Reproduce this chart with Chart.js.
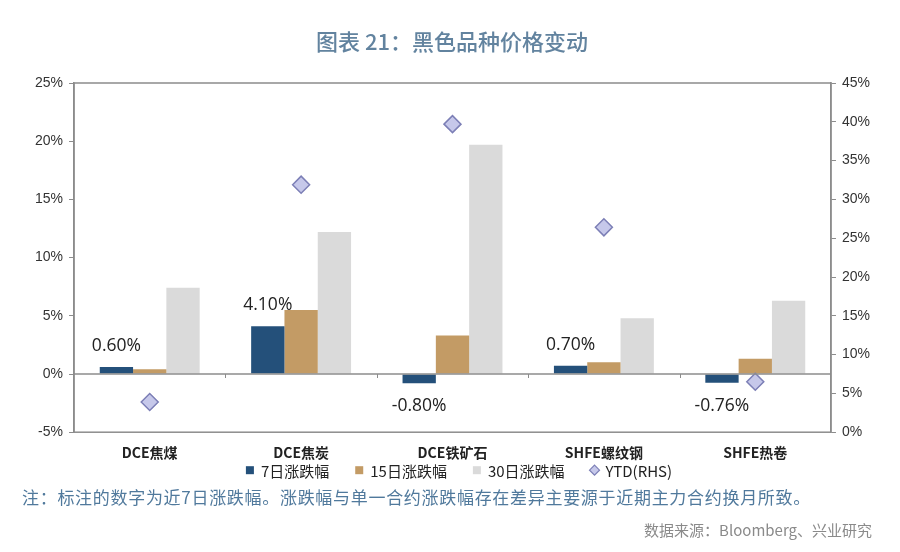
<!DOCTYPE html>
<html>
<head>
<meta charset="utf-8">
<script src="https://cdn.jsdelivr.net/npm/chart.js@4.4.1/dist/chart.umd.min.js"></script>
<style>
  body { margin: 0; background: #fff; font-family: "Noto Sans CJK SC", "Noto Sans", sans-serif; }
  #wrap { position: relative; width: 900px; height: 552px; overflow: hidden; }
  #title { position: absolute; top: 24px; left: 0; width: 904px; text-align: center; font-size: 22px; font-weight: 500; color: #62839f; }
  #note { position: absolute; top: 484px; left: 22px; font-size: 17px; color: #50799c; letter-spacing: 0.7px; }
  #source { position: absolute; top: 519px; right: 28px; font-size: 15px; color: #8a8a8a; }
  canvas { position: absolute; top: 0; left: 0; }
</style>
</head>
<body>
<div id="wrap">
  <canvas id="chart" width="900" height="552"></canvas>
  <div id="title">图表 21：黑色品种价格变动</div>
  <div id="note">注：标注的数字为近7日涨跌幅。涨跌幅与单一合约涨跌幅存在差异主要源于近期主力合约换月所致。</div>
  <div id="source">数据来源：Bloomberg、兴业研究</div>
</div>
<script>
// Data (%)
const categories = ["DCE焦煤", "DCE焦炭", "DCE铁矿石", "SHFE螺纹钢", "SHFE热卷"];
const chg7d = [0.60, 4.10, -0.80, 0.70, -0.76];
const chg15d = [0.4, 5.5, 3.3, 1.0, 1.3];
const chg30d = [7.4, 12.2, 19.7, 4.8, 6.3];
const ytd = [3.9, 31.9, 39.7, 26.4, 6.5];
const seriesNames = ["7日涨跌幅", "15日涨跌幅", "30日涨跌幅", "YTD(RHS)"];

const axisGray = "#8c8c8c";

// Frame, zero line, small category ticks, 7-day labels and legend
const extras = {
  id: "extras",
  afterDatasetsDraw(chart) {
    const { ctx, chartArea: a, scales } = chart;
    const y0 = scales.y.getPixelForValue(0);
    ctx.save();
    ctx.strokeStyle = axisGray;
    ctx.lineWidth = 1.5;
    ctx.strokeRect(a.left, a.top, a.right - a.left, a.bottom - a.top);
    ctx.beginPath();
    ctx.moveTo(a.left, y0);
    ctx.lineTo(a.right, y0);
    ctx.stroke();
    // ticks between categories on the zero line
    const step = (a.right - a.left) / categories.length;
    ctx.lineWidth = 1;
    for (let i = 1; i < categories.length; i++) {
      const x = Math.round(a.left + step * i) + 0.5;
      ctx.beginPath();
      ctx.moveTo(x, y0);
      ctx.lineTo(x, y0 + 4);
      ctx.stroke();
    }
    // labels for the 7-day bars
    const meta = chart.getDatasetMeta(0);
    ctx.fillStyle = "#222";
    ctx.font = "17.5px 'Open Sans', 'DejaVu Sans', sans-serif";
    ctx.textAlign = "center";
    ctx.textBaseline = "middle";
    meta.data.forEach((bar, i) => {
      const v = chg7d[i];
      const txt = v.toFixed(2) + "%";
      const y = v >= 0 ? bar.y - 21 : bar.y + 23;
      ctx.fillText(txt, bar.x, y);
    });

    // legend
    ctx.font = "15px 'Noto Sans CJK SC', sans-serif";
    ctx.textAlign = "left";
    const gapMark = 7, gapItem = 26, box = 8;
    const widths = seriesNames.map(n => box + gapMark + ctx.measureText(n).width);
    const total = widths.reduce((s, w) => s + w, 0) + gapItem * (seriesNames.length - 1);
    let x = 459 - total / 2;
    const ly = a.bottom + 38;
    chart.data.datasets.forEach((ds, i) => {
      if (ds.type === "line") {
        const r = 5;
        const cx = x + box / 2;
        ctx.beginPath();
        ctx.moveTo(cx, ly - r); ctx.lineTo(cx + r, ly); ctx.lineTo(cx, ly + r); ctx.lineTo(cx - r, ly); ctx.closePath();
        ctx.fillStyle = ds.backgroundColor; ctx.fill();
        ctx.strokeStyle = ds.borderColor; ctx.lineWidth = 1.2; ctx.stroke();
      } else {
        ctx.fillStyle = ds.backgroundColor;
        ctx.fillRect(x, ly - box / 2, box, box);
      }
      ctx.fillStyle = "#222";
      ctx.fillText(seriesNames[i], x + box + gapMark, ly + 1);
      x += widths[i] + gapItem;
    });
    ctx.restore();
  }
};

new Chart(document.getElementById("chart"), {
  type: "bar",
  data: {
    labels: categories,
    datasets: [
      { label: seriesNames[0], data: chg7d, backgroundColor: "#24507a", borderWidth: 0, yAxisID: "y", order: 2 },
      { label: seriesNames[1], data: chg15d, backgroundColor: "#c39b65", borderWidth: 0, yAxisID: "y", order: 2 },
      { label: seriesNames[2], data: chg30d, backgroundColor: "#dadada", borderWidth: 0, yAxisID: "y", order: 2 },
      {
        type: "line", label: seriesNames[3], data: ytd, yAxisID: "y1", showLine: false, order: 1,
        pointStyle: "rectRot", pointRadius: 8.5, pointHoverRadius: 8.5,
        backgroundColor: "#c6c8ea", borderColor: "#7c7fb6", pointBorderWidth: 1.5, borderWidth: 1.5
      }
    ]
  },
  options: {
    responsive: false,
    animation: false,
    layout: { padding: { top: 83, left: 29, right: 24, bottom: 87 } },
    datasets: { bar: { categoryPercentage: 0.66, barPercentage: 1.0 } },
    plugins: {
      tooltip: { enabled: false },
      legend: { display: false }
    },
    scales: {
      x: {
        grid: { display: false },
        border: { display: false },
        ticks: { color: "#222", font: { size: 14, weight: "bold", family: "'Noto Sans CJK SC', sans-serif" }, padding: 4 }
      },
      y: {
        position: "left",
        min: -5, max: 25,
        grid: { drawOnChartArea: false, color: axisGray, tickLength: 5 },
        border: { color: axisGray, width: 1.5 },
        ticks: { stepSize: 5, callback: v => v + "%", color: "#333", font: { size: 14, family: "'Liberation Sans', Arial, sans-serif" }, padding: 6 }
      },
      y1: {
        position: "right",
        min: 0, max: 45,
        grid: { drawOnChartArea: false, color: axisGray, tickLength: 5 },
        border: { color: axisGray, width: 1.5 },
        ticks: { stepSize: 5, callback: v => v + "%", color: "#333", font: { size: 14, family: "'Liberation Sans', Arial, sans-serif" }, padding: 6 }
      }
    }
  },
  plugins: [extras]
});
</script>
</body>
</html>
